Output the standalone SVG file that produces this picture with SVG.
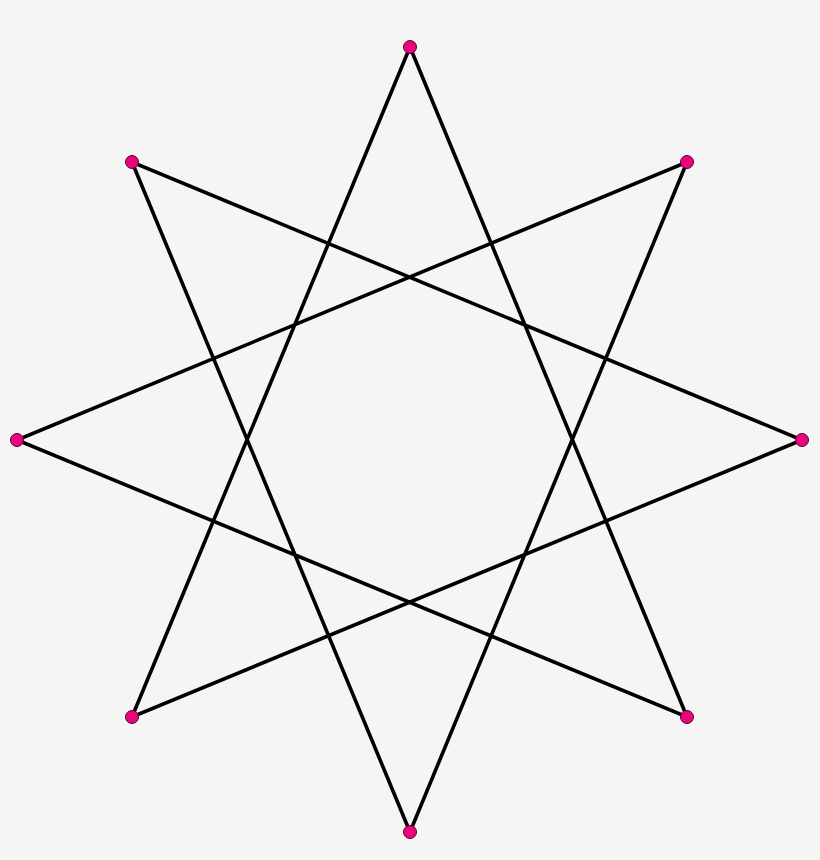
<svg xmlns="http://www.w3.org/2000/svg" width="820" height="860" viewBox="0 0 820 860">
<style>
.edge{stroke:#000;stroke-width:3.6;fill:none;stroke-linejoin:miter;stroke-miterlimit:20}
.v{fill:#e8077a;stroke:#5a0030;stroke-width:1}
</style>
<rect width="820" height="860" fill="#f5f5f5"/>
<g id="connectors">
<polygon class="edge" points="410,47 687,717 17,440 687,162 410,832 132,162 802,440 132,717"/>
</g>
<g id="v0"><circle class="v" cx="410" cy="47" r="6.5"/></g>
<g id="v1"><circle class="v" cx="687" cy="162" r="6.5"/></g>
<g id="v2"><circle class="v" cx="802" cy="440" r="6.5"/></g>
<g id="v3"><circle class="v" cx="687" cy="717" r="6.5"/></g>
<g id="v4"><circle class="v" cx="410" cy="832" r="6.5"/></g>
<g id="v5"><circle class="v" cx="132" cy="717" r="6.5"/></g>
<g id="v6"><circle class="v" cx="17" cy="440" r="6.5"/></g>
<g id="v7"><circle class="v" cx="132" cy="162" r="6.5"/></g>
</svg>
